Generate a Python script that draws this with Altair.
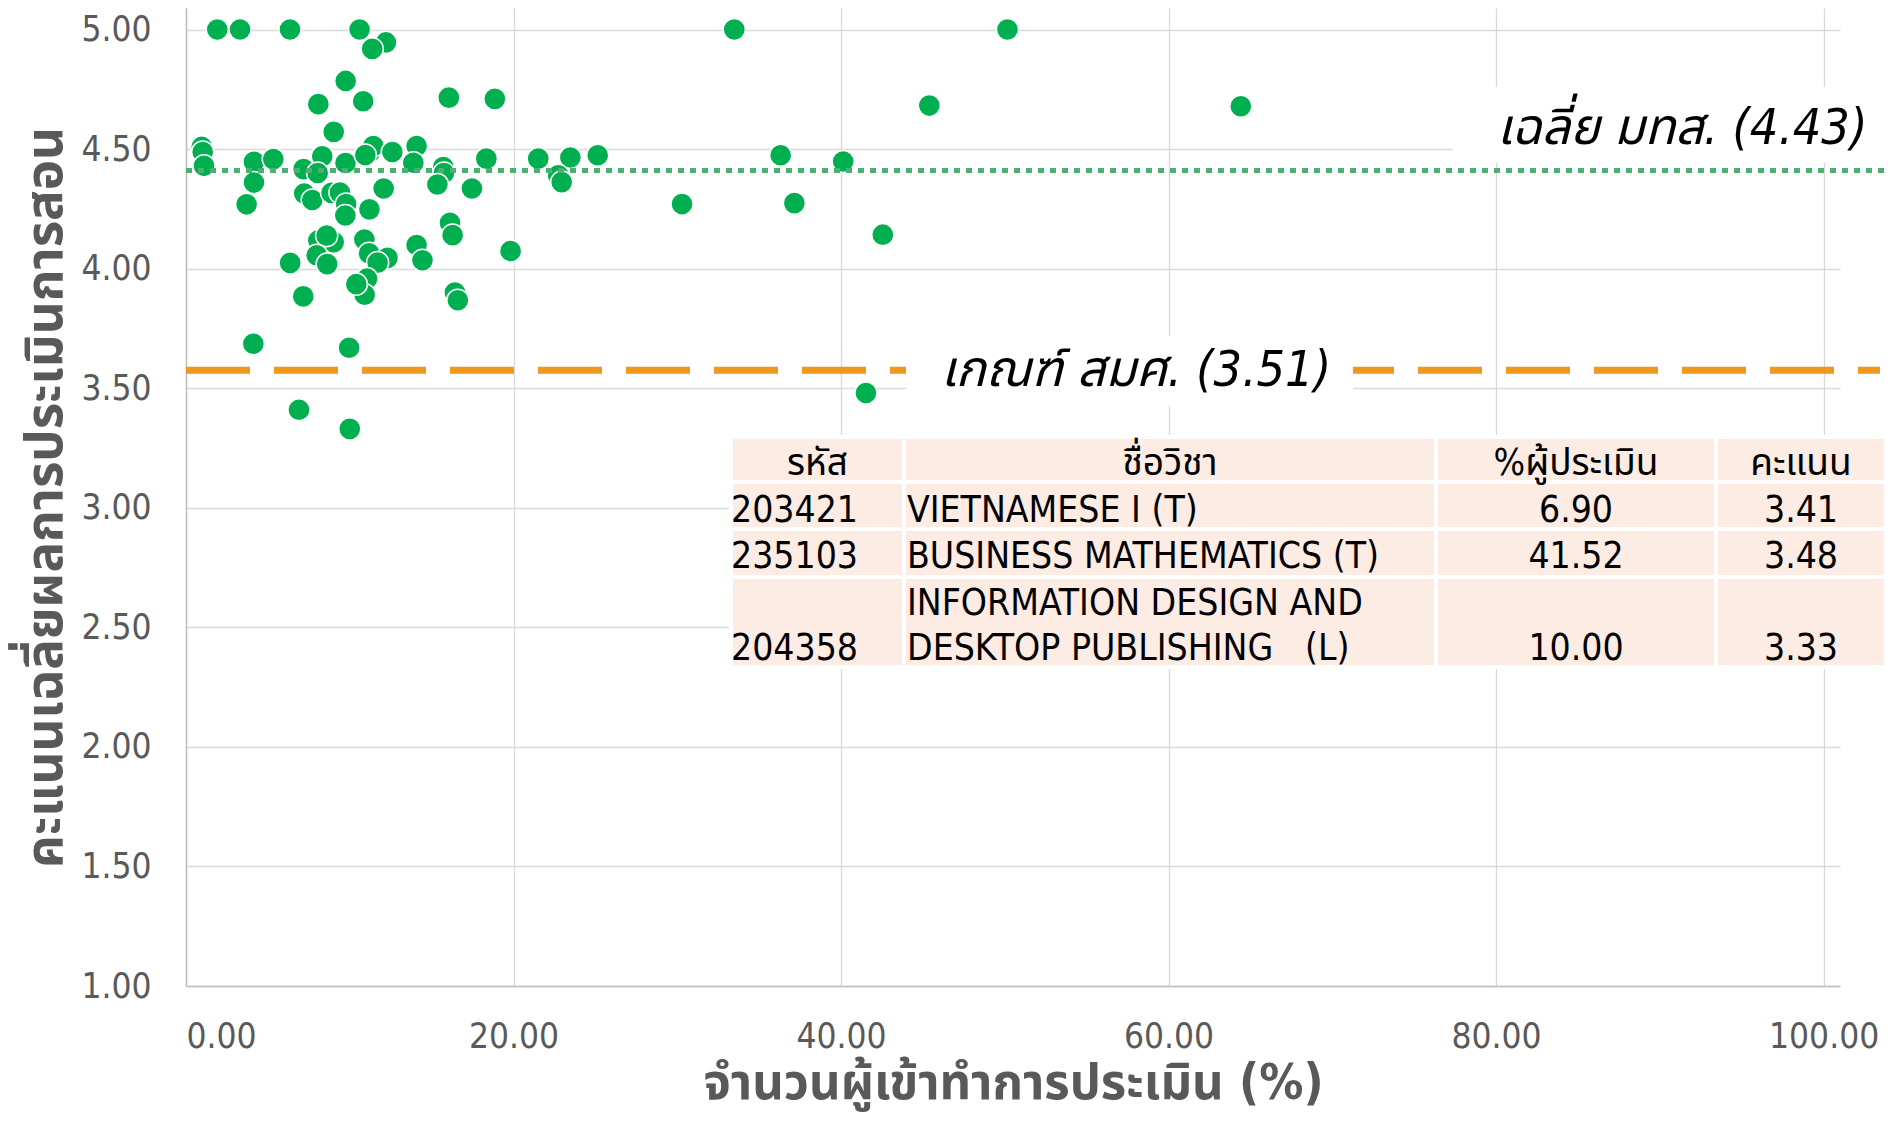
import altair as alt
import pandas as pd

# ---------------- data ----------------
pct_participants = [1.91, 3.30, 6.35, 10.60, 12.21, 11.37, 9.75, 8.08, 10.82, 16.05, 18.86, 9.02,
                    0.96, 1.02, 1.10,
                    4.15, 5.33, 4.15, 3.70,
                    7.18, 8.32, 8.04, 9.74,
                    11.20, 11.44, 10.95, 12.60, 14.08, 13.88,
                    15.71, 15.75, 15.35, 17.46, 18.34,
                    21.51, 23.47, 22.73, 22.94, 25.14,
                    7.22, 7.71, 8.89, 9.40, 9.78, 9.73, 12.07, 11.20,
                    16.12, 16.28, 19.82, 14.08, 14.44,
                    8.08, 9.02, 8.59, 7.98, 8.62, 6.36,
                    10.89, 11.18, 12.30, 11.70,
                    11.05, 10.91, 10.40, 16.42, 16.60,
                    7.16, 4.11, 9.96, 6.90, 10.00,
                    33.48, 50.16, 45.39, 64.41, 36.31, 40.13, 30.29, 37.15, 42.55, 41.52]
mean_scores = [5.00, 5.00, 5.00, 5.00, 4.946, 4.919, 4.785, 4.688, 4.70, 4.715, 4.71, 4.572,
               4.509, 4.488, 4.43,
               4.447, 4.458, 4.36, 4.269,
               4.416, 4.47, 4.40, 4.442,
               4.485, 4.513, 4.475, 4.488, 4.513, 4.443,
               4.425, 4.40, 4.352, 4.335, 4.46,
               4.46, 4.465, 4.39, 4.362, 4.474,
               4.314, 4.287, 4.317, 4.318, 4.27, 4.222, 4.335, 4.248,
               4.192, 4.140, 4.074, 4.099, 4.035,
               4.118, 4.111, 4.138, 4.056, 4.019, 4.024,
               4.122, 4.064, 4.045, 4.025,
               3.958, 3.891, 3.935, 3.90, 3.868,
               3.884, 3.686, 3.669, 3.41, 3.33,
               5.00, 5.00, 4.682, 4.679, 4.474, 4.448, 4.27, 4.274, 4.142, 3.48]

x_ticks = [0, 20, 40, 60, 80, 100]
y_ticks = [1.0, 1.5, 2.0, 2.5, 3.0, 3.5, 4.0, 4.5, 5.0]

university_mean_line = 4.41
university_mean_label = "เฉลี่ย มทส. (4.43)"
criterion_line = 3.575
criterion_label = "เกณฑ์ สมศ. (3.51)"

x_title = "จำนวนผู้เข้าทำการประเมิน (%)"
y_title = "คะแนนเฉลี่ยผลการประเมินการสอน"

table_headers = ["รหัส", "ชื่อวิชา", "%ผู้ประเมิน", "คะแนน"]
table_codes = ["203421", "235103", "204358"]
table_names = [["VIETNAMESE I (T)"], ["BUSINESS MATHEMATICS (T)"],
               ["INFORMATION DESIGN AND", "DESKTOP PUBLISHING\u00a0\u00a0\u00a0(L)"]]
table_pct = ["6.90", "41.52", "10.00"]
table_scores = ["3.41", "3.48", "3.33"]

# ---------------- layout (pixels, relative to plot origin) ----------------
W, H = 1654, 978
PAD = {"left": 178, "top": 0, "right": 47, "bottom": 127}
col_edges = [545, 718, 1250, 1530, 1700]
row_edges = [429, 474, 521, 569, 659]
header_base = 467
row_bases = [[514], [560], [607, 652]]

FONT = "DejaVu Sans Condensed, Tahoma, Noto Sans Thai, Noto Sans, sans-serif"
GREEN = "#00B050"
GREEN_LINE = "#4DB071"
ORANGE = "#F0961B"
GREY_TXT = "#595959"

# ---------------- main plot ----------------
df = pd.DataFrame({"pct": pct_participants, "score": mean_scores})

points = alt.Chart(df).mark_circle(
    size=490, color=GREEN, opacity=1, stroke="white", strokeWidth=1.5
).encode(
    x=alt.X("pct:Q", scale=alt.Scale(domain=[0, 101], nice=False),
            axis=alt.Axis(values=x_ticks, format=".2f", title=x_title,
                          titleX=W / 2, titleY=97, titleBaseline="middle",
                          titleFontSize=49)),
    y=alt.Y("score:Q", scale=alt.Scale(domain=[1, 5.09], nice=False, zero=False),
            axis=alt.Axis(values=y_ticks, format=".2f", title=y_title,
                          titleX=-140, titleY=H / 2, titleAngle=-90,
                          titleAlign="center", titleBaseline="middle")),
)

one = pd.DataFrame({"a": [0]})

mean_rule = alt.Chart(one).mark_rule(
    color=GREEN_LINE, strokeWidth=5, strokeDash=[6, 6]
).encode(y=alt.datum(university_mean_line), x=alt.value(0), x2=alt.value(W + PAD["right"]))

crit_rule = alt.Chart(one).mark_rule(
    color=ORANGE, strokeWidth=7, strokeDash=[64, 24]
).encode(y=alt.datum(criterion_line), x=alt.value(0), x2=alt.value(W + 40))

box_mean = alt.Chart(one).mark_rect(fill="white").encode(
    x=alt.value(1267), x2=alt.value(W + PAD["right"]), y=alt.value(79), y2=alt.value(155))
box_crit = alt.Chart(one).mark_rect(fill="white").encode(
    x=alt.value(720), x2=alt.value(1167), y=alt.value(328), y2=alt.value(398))

txt_mean = alt.Chart(one).mark_text(
    text=university_mean_label, align="left", baseline="alphabetic",
    font=FONT, fontSize=50, fontStyle="italic", color="black"
).encode(x=alt.value(1311), y=alt.value(136))
txt_crit = alt.Chart(one).mark_text(
    text=criterion_label, align="left", baseline="alphabetic",
    font=FONT, fontSize=50, fontStyle="italic", color="black"
).encode(x=alt.value(755), y=alt.value(378))

main = alt.layer(points, mean_rule, crit_rule, box_mean, box_crit, txt_mean, txt_crit)

# ---------------- table ----------------
cells = []
for r in range(len(row_edges) - 1):
    for c in range(len(col_edges) - 1):
        cells.append({"x0": col_edges[c], "x1": col_edges[c + 1],
                      "y0": row_edges[r], "y1": row_edges[r + 1]})
cells_df = pd.DataFrame(cells)

left_txt, center_txt = [], []
for c, h in enumerate(table_headers):
    center_txt.append({"x": (col_edges[c] + col_edges[c + 1]) / 2, "y": header_base, "t": h})
for i in range(len(table_codes)):
    bases = row_bases[i]
    last = bases[-1]
    left_txt.append({"x": col_edges[0], "y": last, "t": table_codes[i]})
    for j, line in enumerate(table_names[i]):
        left_txt.append({"x": col_edges[1] + 3, "y": bases[j], "t": line})
    center_txt.append({"x": (col_edges[2] + col_edges[3]) / 2, "y": last, "t": table_pct[i]})
    center_txt.append({"x": (col_edges[3] + col_edges[4]) / 2, "y": last, "t": table_scores[i]})

tab_rect = alt.Chart(cells_df).mark_rect(fill="#FCECE3", stroke="white", strokeWidth=4).encode(
    x=alt.X("x0:Q", scale=None, axis=None), x2="x1:Q",
    y=alt.Y("y0:Q", scale=None, axis=None), y2="y1:Q")
tab_left = alt.Chart(pd.DataFrame(left_txt)).mark_text(
    align="left", baseline="alphabetic", font=FONT, fontSize=37, color="black"
).encode(x=alt.X("x:Q", scale=None, axis=None), y=alt.Y("y:Q", scale=None, axis=None), text="t:N")
tab_center = alt.Chart(pd.DataFrame(center_txt)).mark_text(
    align="center", baseline="alphabetic", font=FONT, fontSize=37, color="black"
).encode(x=alt.X("x:Q", scale=None, axis=None), y=alt.Y("y:Q", scale=None, axis=None), text="t:N")

table = alt.layer(tab_rect, tab_left, tab_center)

chart = alt.layer(main, table).resolve_scale(x="independent", y="independent").properties(
    width=W, height=H, padding=PAD, autosize=alt.AutoSizeParams(type="none"),
    background="white"
).configure_view(stroke=None).configure_axis(
    labelFont=FONT, labelFontSize=35, labelColor=GREY_TXT,
    titleFont=FONT, titleFontSize=51, titleFontWeight="bold", titleColor=GREY_TXT,
    grid=True, gridColor="#D9D9D9", gridWidth=1.3,
    domainColor="#BFBFBF", domainWidth=1.5, ticks=False, tickSize=0,
).configure_axisX(labelPadding=33).configure_axisY(labelPadding=35)

chart.save("out.html", embed_options={"renderer": "svg", "actions": False})
